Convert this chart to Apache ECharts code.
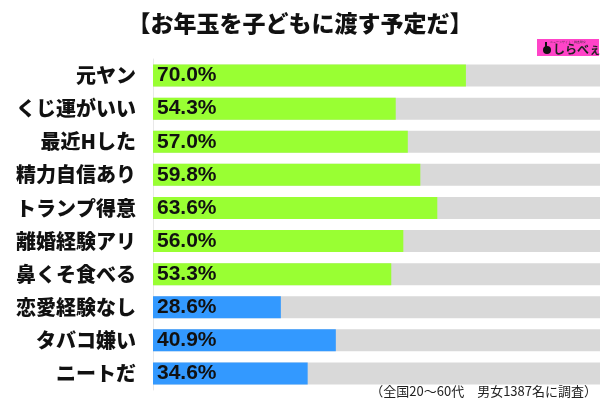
<!DOCTYPE html>
<html>
<head>
<meta charset="utf-8">
<script src="https://cdn.jsdelivr.net/npm/echarts@6/dist/echarts.min.js"></script>
<style>html,body{margin:0;padding:0;background:#fff;}#c{width:600px;height:400px;}</style>
</head>
<body>
<div id="c"></div>
<script>
const titleText = '【お年玉を子どもに渡す予定だ】';
const categories = ['元ヤン','くじ運がいい','最近Hした','精力自信あり','トランプ得意','離婚経験アリ','鼻くそ食べる','恋愛経験なし','タバコ嫌い','ニートだ'];
const values = [70.0, 54.3, 57.0, 59.8, 63.6, 56.0, 53.3, 28.6, 40.9, 34.6];
const groupA = 7; // first 7 green, remaining blue
const footnote = '（全国20〜60代　男女1387名に調査）';
const logoText = 'しらべぇ';

const GREEN = '#99ff33', BLUE = '#3399ff';
const chart = echarts.init(document.getElementById('c'), null, {renderer:'canvas'});
chart.setOption({
  animation:false,
  backgroundColor:'#fff',
  title:{text:titleText,left:'center',top:12,padding:0,
    textStyle:{fontSize:23,fontWeight:900,color:'#111',fontFamily:'Noto Sans CJK JP'}},
  grid:{left:153,right:0,top:59,bottom:10,containLabel:false},
  xAxis:{type:'value',min:0,max:100,show:false},
  yAxis:{type:'category',data:categories,inverse:true,
    axisLine:{show:true,lineStyle:{color:'#e8e8e8',width:1}},
    axisTick:{show:false},
    axisLabel:{margin:17,fontSize:20,fontWeight:900,color:'#111',fontFamily:'Noto Sans CJK JP'}},
  series:[{
    type:'bar',
    data: values.map((v,i)=>({value:v,itemStyle:{color:i<groupA?GREEN:BLUE}})),
    barWidth:22,
    showBackground:true,
    backgroundStyle:{color:'#d9d9d9'},
    label:{show:true,position:'insideLeft',distance:4,
      formatter:p=>p.value.toFixed(1)+'%',
      fontSize:21,fontWeight:'bold',color:'#111',fontFamily:'Liberation Sans'}
  }],
  graphic:[
    {type:'text',right:3,top:385,style:{text:footnote,fontSize:13,fill:'#222',fontFamily:'Noto Sans CJK JP'}},
    {type:'group',left:537,top:39,children:[
      {type:'rect',shape:{x:0,y:0,width:62,height:17},style:{fill:'#ff44c8'}},
      {type:'text',style:{x:31,y:2,text:'ニュースサイト・調査研究',fontSize:3,fill:'#333',align:'center'}},
      {type:'circle',shape:{cx:10,cy:11,r:4},style:{fill:'#111'}},
      {type:'rect',shape:{x:8,y:3,width:2,height:6},style:{fill:'#111'}},
      {type:'text',style:{x:16,y:4,text:logoText,fontSize:12,fontWeight:'bold',fill:'#222',fontFamily:'Noto Sans CJK JP'}}
    ]}
  ]
});
</script>
</body>
</html>
